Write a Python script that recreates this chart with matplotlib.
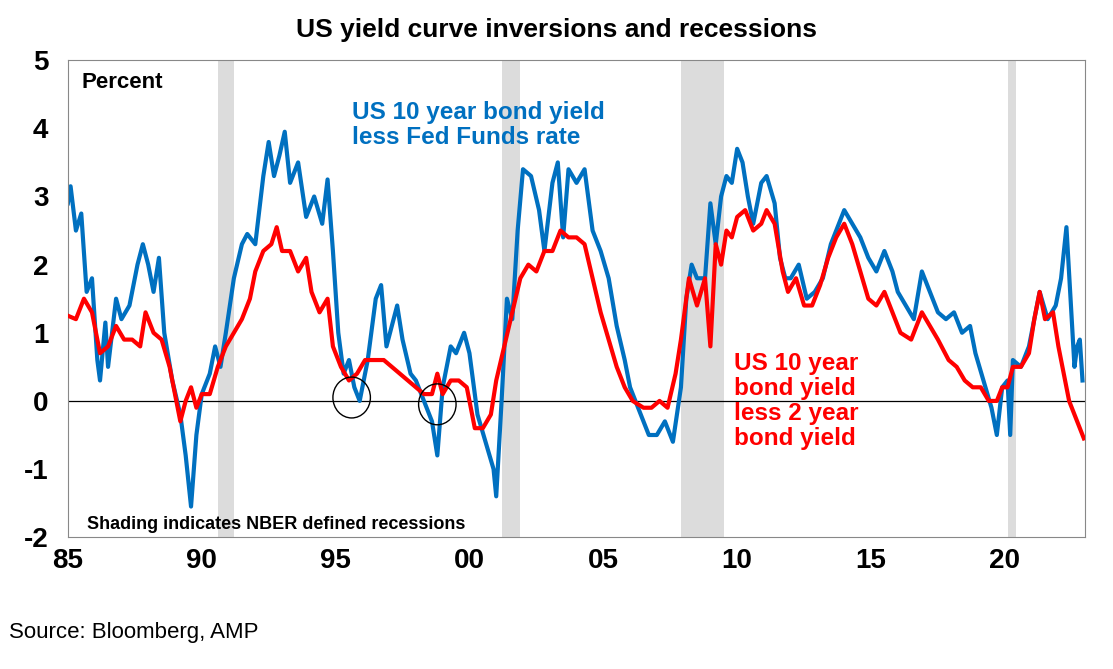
import matplotlib
matplotlib.use("Agg")
import matplotlib.pyplot as plt
from matplotlib.patches import Ellipse

blue_t = [1985.0,1985.1,1985.3,1985.5,1985.7,1985.9,1986.1,1986.2,1986.4,1986.5,1986.8,1987.0,1987.3,1987.6,1987.8,1988.0,1988.2,1988.4,1988.6,1988.9,1989.2,1989.4,1989.6,1989.8,1990.0,1990.3,1990.5,1990.7,1990.9,1991.2,1991.5,1991.7,1992.0,1992.3,1992.5,1992.7,1992.9,1993.1,1993.3,1993.6,1993.9,1994.2,1994.5,1994.7,1994.9,1995.1,1995.3,1995.5,1995.7,1995.9,1996.2,1996.5,1996.7,1996.9,1997.1,1997.3,1997.5,1997.8,1998.0,1998.3,1998.6,1998.8,1999.0,1999.3,1999.5,1999.8,2000.0,2000.3,2000.6,2000.9,2001.0,2001.2,2001.4,2001.6,2001.8,2002.0,2002.3,2002.6,2002.8,2003.1,2003.3,2003.5,2003.7,2004.0,2004.3,2004.6,2004.9,2005.2,2005.5,2005.8,2006.0,2006.4,2006.7,2007.0,2007.3,2007.6,2007.9,2008.1,2008.3,2008.5,2008.8,2009.0,2009.2,2009.4,2009.6,2009.8,2010.0,2010.2,2010.4,2010.6,2010.9,2011.1,2011.4,2011.6,2011.8,2012.0,2012.3,2012.6,2012.9,2013.2,2013.5,2013.8,2014.0,2014.3,2014.6,2014.9,2015.2,2015.5,2015.8,2016.0,2016.3,2016.6,2016.9,2017.2,2017.5,2017.8,2018.1,2018.4,2018.7,2018.9,2019.2,2019.5,2019.7,2019.9,2020.1,2020.2,2020.3,2020.6,2020.9,2021.1,2021.3,2021.6,2021.9,2022.1,2022.3,2022.5,2022.6,2022.7,2022.8,2022.9]
blue_v = [2.9,3.15,2.5,2.75,1.6,1.8,0.6,0.3,1.15,0.5,1.5,1.2,1.4,2.0,2.3,2.0,1.6,2.1,1.0,0.3,-0.2,-0.8,-1.55,-0.5,0.1,0.4,0.8,0.5,1.0,1.8,2.3,2.45,2.3,3.3,3.8,3.3,3.6,3.95,3.2,3.5,2.7,3.0,2.6,3.25,2.2,1.0,0.4,0.6,0.2,0.0,0.6,1.5,1.7,0.8,1.1,1.4,0.9,0.4,0.3,0.0,-0.3,-0.8,0.2,0.8,0.7,1.0,0.7,-0.2,-0.6,-1.0,-1.4,0.0,1.5,1.2,2.5,3.4,3.3,2.8,2.2,3.2,3.5,2.4,3.4,3.2,3.4,2.5,2.2,1.8,1.1,0.6,0.2,-0.2,-0.5,-0.5,-0.3,-0.6,0.2,1.5,2.0,1.8,1.8,2.9,2.3,3.0,3.3,3.2,3.7,3.5,3.0,2.6,3.2,3.3,2.9,2.1,1.8,1.8,2.0,1.5,1.6,1.8,2.3,2.6,2.8,2.6,2.4,2.1,1.9,2.2,1.9,1.6,1.4,1.2,1.9,1.6,1.3,1.2,1.3,1.0,1.1,0.7,0.3,-0.1,-0.5,0.2,0.3,-0.5,0.6,0.5,0.8,1.2,1.6,1.2,1.4,1.8,2.55,1.2,0.5,0.8,0.9,0.3]

red_t = [1985.0,1985.3,1985.6,1985.9,1986.2,1986.5,1986.8,1987.1,1987.4,1987.7,1987.9,1988.2,1988.5,1988.8,1989.0,1989.2,1989.4,1989.6,1989.8,1990.0,1990.3,1990.6,1990.9,1991.2,1991.5,1991.8,1992.0,1992.3,1992.6,1992.8,1993.0,1993.3,1993.6,1993.9,1994.1,1994.4,1994.7,1994.9,1995.2,1995.5,1995.8,1996.1,1996.4,1996.8,1997.1,1997.4,1997.7,1998.0,1998.3,1998.6,1998.8,1999.0,1999.3,1999.6,1999.9,2000.2,2000.5,2000.8,2001.0,2001.3,2001.6,2001.9,2002.2,2002.5,2002.8,2003.1,2003.4,2003.7,2004.0,2004.3,2004.6,2004.9,2005.2,2005.5,2005.8,2006.1,2006.5,2006.8,2007.1,2007.4,2007.7,2007.9,2008.2,2008.5,2008.8,2009.0,2009.2,2009.4,2009.6,2009.8,2010.0,2010.3,2010.6,2010.9,2011.1,2011.4,2011.7,2011.9,2012.2,2012.5,2012.8,2013.1,2013.4,2013.7,2014.0,2014.3,2014.6,2014.9,2015.2,2015.5,2015.8,2016.1,2016.5,2016.9,2017.2,2017.5,2017.9,2018.2,2018.5,2018.8,2019.1,2019.4,2019.7,2019.9,2020.1,2020.3,2020.6,2020.9,2021.1,2021.3,2021.5,2021.8,2022.0,2022.3,2022.4,2022.6,2022.8,2022.95]
red_v = [1.25,1.2,1.5,1.3,0.7,0.8,1.1,0.9,0.9,0.8,1.3,1.0,0.9,0.5,0.1,-0.3,0.0,0.2,-0.1,0.1,0.1,0.5,0.8,1.0,1.2,1.5,1.9,2.2,2.3,2.55,2.2,2.2,1.9,2.1,1.6,1.3,1.5,0.8,0.5,0.3,0.4,0.6,0.6,0.6,0.5,0.4,0.3,0.2,0.1,0.1,0.4,0.1,0.3,0.3,0.2,-0.4,-0.4,-0.2,0.3,0.8,1.3,1.8,2.0,1.9,2.2,2.2,2.5,2.4,2.4,2.3,1.8,1.3,0.9,0.5,0.2,0.0,-0.1,-0.1,0.0,-0.1,0.4,0.9,1.8,1.4,1.8,0.8,2.3,2.0,2.5,2.4,2.7,2.8,2.5,2.6,2.8,2.6,1.9,1.6,1.8,1.4,1.4,1.7,2.1,2.4,2.6,2.3,1.9,1.5,1.4,1.6,1.3,1.0,0.9,1.3,1.1,0.9,0.6,0.5,0.3,0.2,0.2,0.0,0.0,0.2,0.2,0.5,0.5,0.7,1.2,1.6,1.2,1.3,0.8,0.2,0.0,-0.2,-0.4,-0.55]

recessions = [(1990.6, 1991.2), (2001.2, 2001.9), (2007.9, 2009.5), (2020.1, 2020.4)]
xticks = [1985, 1990, 1995, 2000, 2005, 2010, 2015, 2020]
xlabels = ["85", "90", "95", "00", "05", "10", "15", "20"]

plt.rcParams['font.family'] = ['Liberation Sans', 'DejaVu Sans']
plt.rcParams['axes.unicode_minus'] = False
fig = plt.figure(figsize=(11.13, 6.69), dpi=100)
ax = fig.add_axes([0.061, 0.197, 0.914, 0.713])
for a, b in recessions:
    ax.axvspan(a, b, color='#dcdcdc', lw=0, zorder=0)
ax.axhline(0, color='black', lw=0.9, zorder=1)
ax.plot(blue_t, blue_v, color='#0070C0', lw=3, zorder=2)
ax.plot(red_t, red_v, color='#FF0000', lw=3, zorder=3)
ax.add_patch(Ellipse((1995.6, 0.05), 1.4, 0.6, fill=False, color='black', lw=1, zorder=4))
ax.add_patch(Ellipse((1998.8, -0.05), 1.4, 0.6, fill=False, color='black', lw=1, zorder=4))
ax.set_xlim(1985, 2023)
ax.set_ylim(-2, 5)
ax.set_xticks(xticks)
ax.set_xticklabels(xlabels)
ax.set_yticks(range(-2, 6))
ax.tick_params(axis='both', labelsize=20, length=0)
ax.tick_params(axis='x', pad=8)
ax.tick_params(axis='y', pad=14)
for lab in ax.get_xticklabels() + ax.get_yticklabels():
    lab.set_fontweight('bold')
for s in ax.spines.values():
    s.set_color('#888888'); s.set_linewidth(0.8)
ax.text(1985.5, 4.68, "Percent", fontsize=16, fontweight='bold', va='center')
ax.text(1995.6, 4.05, "US 10 year bond yield\nless Fed Funds rate", color='#0070C0',
        fontsize=17.5, fontweight='bold', va='center', linespacing=1.15)
ax.text(2009.9, 0.0, "US 10 year\nbond yield\nless 2 year\nbond yield", color='#FF0000',
        fontsize=17.5, fontweight='bold', va='center', linespacing=1.1)
ax.text(1985.7, -1.82, "Shading indicates NBER defined recessions", fontsize=13,
        fontweight='bold', va='center')
fig.text(0.5, 0.955, "US yield curve inversions and recessions", ha='center', va='center',
         fontsize=19, fontweight='bold')
fig.text(0.008, 0.055, "Source: Bloomberg, AMP", fontsize=16, va='center')
fig.savefig("out.png", dpi=100)
